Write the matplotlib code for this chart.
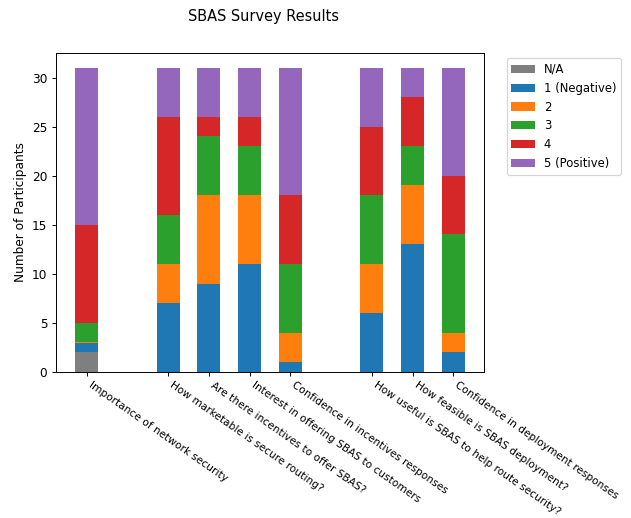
import matplotlib
matplotlib.use("Agg")
import matplotlib.pyplot as plt
import numpy as np

questions = [
    "Importance of network security",
    "How marketable is secure routing?",
    "Are there incentives to offer SBAS?",
    "Interest in offering SBAS to customers",
    "Confidence in incentives responses",
    "How useful is SBAS to help route security?",
    "How feasible is SBAS deployment?",
    "Confidence in deployment responses",
]
positions = [0, 2, 3, 4, 5, 7, 8, 9]

series_names = ["N/A", "1 (Negative)", "2", "3", "4", "5 (Positive)"]
na_vals   = [2, 0, 0, 0, 0, 0, 0, 0]
neg1_vals = [0.9, 7, 9, 11, 1, 6, 13, 2]
two_vals  = [0.1, 4, 9, 7, 3, 5, 6, 2]
three_vals = [2, 5, 6, 5, 7, 7, 4, 10]
four_vals = [10, 10, 2, 3, 7, 7, 5, 6]
pos5_vals = [16, 5, 5, 5, 13, 6, 3, 11]

colors = ["#7f7f7f", "#1f77b4", "#ff7f0e", "#2ca02c", "#d62728", "#9467bd"]

DPI = 87
fig = plt.figure(figsize=(631 / DPI, 518 / DPI), dpi=DPI)
ax = fig.add_axes([0.0883, 0.2824, 0.6792, 0.6159])

bottom = np.zeros(len(questions))
for name, vals, c in zip(series_names,
                         [na_vals, neg1_vals, two_vals, three_vals, four_vals, pos5_vals],
                         colors):
    vals = np.array(vals, dtype=float)
    ax.bar(positions, vals, width=0.56, bottom=bottom, color=c, label=name)
    bottom += vals

ax.set_xticks(positions)
ax.set_xticklabels(questions, rotation=-35, ha="left", fontsize=8.7)
ax.set_ylabel("Number of Participants", fontsize=10)
ax.set_yticks([0, 5, 10, 15, 20, 25, 30])

fig.text(263 / 631, 1 - 17 / 518, "SBAS Survey Results", ha="center", va="center", fontsize=12)

fig.legend(loc="upper left", bbox_to_anchor=(506.7 / 631, 1 - 58.3 / 518),
           bbox_transform=fig.transFigure, borderaxespad=0, fontsize=9.6)

fig.savefig("out.png", dpi=DPI)
